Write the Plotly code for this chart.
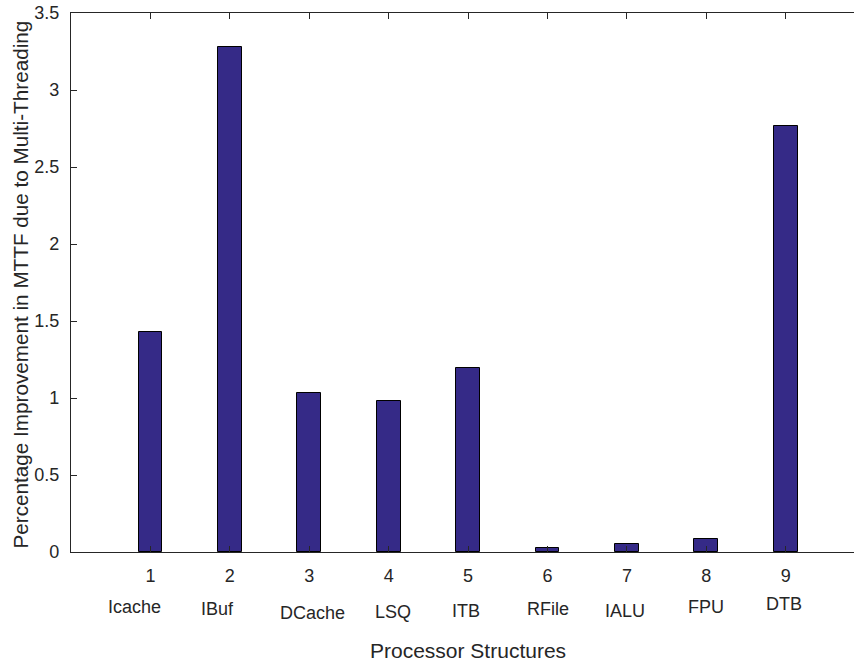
import plotly.graph_objects as go

# Bar data: MTTF improvement per processor structure
positions = [1, 2, 3, 4, 5, 6, 7, 8, 9]
improvement = [1.43, 3.28, 1.03, 0.98, 1.195, 0.023, 0.05, 0.086, 2.765]
structures = ["Icache", "IBuf", "DCache", "LSQ", "ITB", "RFile", "IALU", "FPU", "DTB"]
# name label placement (x in data units, pixels below the x axis)
label_x = [0.80, 1.84, 3.04, 4.05, 4.98, 6.01, 6.97, 8.00, 8.98]
label_drop = [55, 56.5, 60.5, 60, 58.5, 57.3, 58.5, 55.2, 51.8]

y_ticks = [0, 0.5, 1, 1.5, 2, 2.5, 3, 3.5]
y_tick_text = ["0", "0.5", "1", "1.5", "2", "2.5", "3", "3.5"]

FONT = "Liberation Sans, Arial, sans-serif"
BAR_COLOR = "#352A87"

fig = go.Figure()
fig.add_trace(go.Bar(
    x=positions,
    y=improvement,
    width=0.3,
    marker=dict(color=BAR_COLOR, line=dict(color="#000000", width=1)),
    hoverinfo="x+y",
))

annotations = []
for name, lx, drop in zip(structures, label_x, label_drop):
    annotations.append(dict(
        text=name, x=lx, xref="x", y=0, yref="paper",
        xanchor="center", yanchor="middle", yshift=-drop,
        showarrow=False, font=dict(family=FONT, size=18, color="#262626"),
    ))

# axis titles
annotations.append(dict(
    text="Processor Structures", x=5, xref="x", y=0, yref="paper",
    xanchor="center", yanchor="middle", yshift=-98,
    showarrow=False, font=dict(family=FONT, size=21, color="#262626"),
))
annotations.append(dict(
    text="Percentage Improvement in MTTF due to Multi-Threading",
    x=0, xref="paper", xshift=-51, y=0.5, yref="paper",
    xanchor="center", yanchor="middle", textangle=-90, yshift=-2,
    showarrow=False, font=dict(family=FONT, size=20.7, color="#262626"),
))

fig.update_layout(
    width=854, height=663,
    margin=dict(l=71, r=0, t=13, b=110.5, pad=0),
    paper_bgcolor="white", plot_bgcolor="white",
    showlegend=False,
    annotations=annotations,
    bargap=0,
)
fig.update_xaxes(
    range=[0, 9.86],
    tickvals=positions,
    ticktext=[str(p) for p in positions],
    ticks="inside", ticklen=6, tickwidth=1, tickcolor="#262626",
    showline=True, linecolor="#262626", linewidth=1.3, mirror="ticks",
    showgrid=False, zeroline=False,
    tickfont=dict(family=FONT, size=18, color="#262626"),
    ticklabelstandoff=7,
)
fig.update_yaxes(
    range=[0, 3.5],
    tickvals=y_ticks,
    ticktext=y_tick_text,
    ticks="inside", ticklen=6, tickwidth=1, tickcolor="#262626",
    showline=True, linecolor="#262626", linewidth=1.3,
    showgrid=False, zeroline=False,
    tickfont=dict(family=FONT, size=18, color="#262626"),
    ticklabelstandoff=7,
)

fig.write_html("out.html")
